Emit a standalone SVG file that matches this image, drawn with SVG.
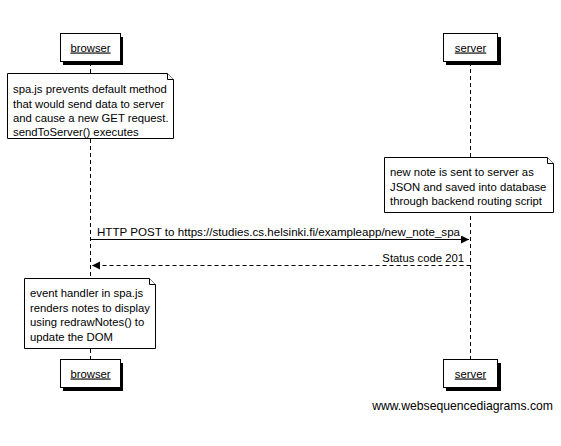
<svg xmlns="http://www.w3.org/2000/svg" width="561" height="446" viewBox="0 0 561 446">
<defs>
<style>
text{font-family:"Liberation Sans",Arial,sans-serif;font-size:11.3px;fill:#000}
.actor{fill:#fff;stroke:#000;stroke-width:1}
.shadow{fill:#000}
.life{stroke:#000;stroke-width:1;stroke-dasharray:4,3;fill:none}
.note{fill:#fff;stroke:#000;stroke-width:1}
.msg{stroke:#000;stroke-width:1;fill:none}
.dash{stroke-dasharray:4,3}
.lbl{text-decoration:underline}
</style>
<marker id="ah" markerWidth="9" markerHeight="9" refX="8" refY="4" orient="auto" markerUnits="userSpaceOnUse">
<path d="M0,0 L8,4 L0,8 Z" fill="#000"/>
</marker>
</defs>
<rect width="561" height="446" fill="#fff"/>
<g id="lifelines">
<line class="life" x1="90.5" y1="62" x2="90.5" y2="360"/>
<line class="life" x1="470.5" y1="62" x2="470.5" y2="360"/>
</g>
<g id="browser-top">
<rect class="shadow" x="63" y="37" width="60" height="28"/>
<rect class="actor" x="60.5" y="33.5" width="60" height="28"/>
<text class="lbl" x="90.5" y="51.5" text-anchor="middle">browser</text>
</g>
<g id="server-top">
<rect class="shadow" x="446" y="37" width="55" height="28"/>
<rect class="actor" x="443.5" y="33.5" width="54" height="28"/>
<text class="lbl" x="470.5" y="51.5" text-anchor="middle">server</text>
</g>
<g id="note1">
<path class="note" d="M7.5,73.5 H167.5 L173.5,79.5 V138.5 H7.5 Z"/>
<path class="note" d="M167.5,73.5 V79.5 H173.5" fill="none"/>
<text x="13" y="93">spa.js prevents default method</text>
<text x="13" y="107.5">that would send data to server</text>
<text x="13" y="122">and cause a new GET request.</text>
<text x="13" y="135.5">sendToServer() executes</text>
</g>
<g id="note2">
<path class="note" d="M384.5,157.5 H547.5 L553.5,163.5 V212.5 H384.5 Z"/>
<path class="note" d="M547.5,157.5 V163.5 H553.5" fill="none"/>
<text x="390" y="176">new note is sent to server as</text>
<text x="390" y="190.5">JSON and saved into database</text>
<text x="390" y="205">through backend routing script</text>
</g>
<g id="connectors">
<line class="msg" x1="90.5" y1="239.5" x2="469" y2="239.5" marker-end="url(#ah)"/>
<text x="97" y="236" style="font-size:11.6px">HTTP POST to https://studies.cs.helsinki.fi/exampleapp/new_note_spa</text>
<line class="msg dash" x1="470.5" y1="265.5" x2="92" y2="265.5" marker-end="url(#ah)"/>
<text x="464" y="262" text-anchor="end">Status code 201</text>
</g>
<g id="note3">
<path class="note" d="M24.5,278.5 H149.5 L155.5,284.5 V348.5 H24.5 Z"/>
<path class="note" d="M149.5,278.5 V284.5 H155.5" fill="none"/>
<text x="30" y="297">event handler in spa.js</text>
<text x="30" y="311.5">renders notes to display</text>
<text x="30" y="326">using redrawNotes() to</text>
<text x="30" y="340.5">update the DOM</text>
</g>
<g id="browser-bottom">
<rect class="shadow" x="63" y="363" width="60" height="28"/>
<rect class="actor" x="60.5" y="359.5" width="60" height="28"/>
<text class="lbl" x="90.5" y="377.5" text-anchor="middle">browser</text>
</g>
<g id="server-bottom">
<rect class="shadow" x="446" y="363" width="55" height="28"/>
<rect class="actor" x="443.5" y="359.5" width="54" height="28"/>
<text class="lbl" x="470.5" y="377.5" text-anchor="middle">server</text>
</g>
<text x="553" y="410" text-anchor="end" style="font-size:12.2px">www.websequencediagrams.com</text>
</svg>
